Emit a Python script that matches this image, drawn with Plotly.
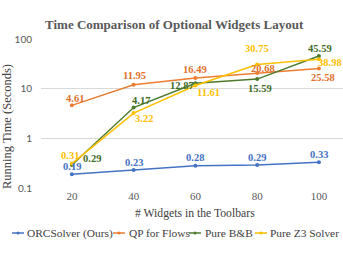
import math
import plotly.graph_objects as go

widgets = [20, 40, 60, 80, 100]
tick_labels = ["20", "40", "60", "80", "100"]
orc = [0.19, 0.23, 0.28, 0.29, 0.33]
qp = [4.61, 11.95, 16.49, 20.68, 25.58]
bb = [0.29, 4.17, 12.87, 15.59, 45.59]
z3 = [0.31, 3.22, 11.61, 30.75, 38.98]
names = ["ORCSolver (Ours)", "QP for Flows", "Pure B&B", "Pure Z3 Solver"]
y_ticks = [0.1, 1, 10, 100]
y_tick_labels = ["0.1", "1", "10", "100"]

series = [orc, qp, bb, z3]
colors = ["#4472C4", "#ED7D31", "#4E7A2F", "#FFC000"]
label_colors = ["#4472C4", "#E0702A", "#3F6B26", "#FFC000"]
# label offsets in pixels (dx, dy up)
offsets = [
    [(0, 8), (0, 8), (0, 8), (0, 8), (0, 8)],
    [(3, 7), (1, 9), (0, 8), (6, 4), (4, -9)],
    [(20, 7), (7, 7), (-13, -2), (3, -9), (1, 7)],
    [(-2, 8), (10, -5), (13, -7), (0, 16), (11, -3)],
]

W, H = 343, 258
L, R, T, B = 41, 0, 39, 70
PW, PH = W - L - R, H - T - B
SERIF = "Liberation Serif"

fig = go.Figure()
for vals, name, c in zip(series, names, colors):
    fig.add_trace(go.Scatter(
        x=widgets, y=vals, name=name, mode="lines+markers",
        line=dict(color=c, width=1.5), marker=dict(color=c, size=4),
        showlegend=False, cliponaxis=False, hoverinfo="skip"))

annotations = []
for vals, c, offs in zip(series, label_colors, offsets):
    for x, v, (dx, dy) in zip(widgets, vals, offs):
        annotations.append(dict(
            x=x, y=math.log10(v), xref="x", yref="y",
            text="<b>%.2f</b>" % v, showarrow=False,
            xshift=dx, yshift=dy, xanchor="center", yanchor="middle",
            font=dict(family=SERIF, size=10.5, color=c)))

def px_x(p):
    return (p - L) / PW

def px_y(p):
    return (H - B - p) / PH

# title
annotations.append(dict(x=px_x(174), y=px_y(24), xref="paper", yref="paper",
    text="<b>Time Comparison of Optional Widgets Layout</b>", showarrow=False,
    xanchor="center", yanchor="middle",
    font=dict(family=SERIF, size=13, color="#595959")))
# y title
annotations.append(dict(x=px_x(7), y=px_y(127), xref="paper", yref="paper",
    text="Running Time (Seconds)", showarrow=False, textangle=-90,
    xanchor="center", yanchor="middle",
    font=dict(family=SERIF, size=12.5, color="#404040")))
# x title
annotations.append(dict(x=px_x(195), y=px_y(213), xref="paper", yref="paper",
    text="# Widgets in the Toolbars", showarrow=False,
    xanchor="center", yanchor="middle",
    font=dict(family=SERIF, size=11.7, color="#404040")))

# manual legend
leg_y = 233
leg_x = [(12, 24, 25), (113, 125, 127), (189, 201, 203), (255, 267, 268)]
shapes = []
for (x0, x1, tx), name, c in zip(leg_x, names, colors):
    shapes.append(dict(type="line", xref="paper", yref="paper",
        x0=px_x(x0), x1=px_x(x1), y0=px_y(leg_y), y1=px_y(leg_y),
        line=dict(color=c, width=1.5)))
    shapes.append(dict(type="circle", xref="paper", yref="paper",
        x0=px_x((x0 + x1) / 2 - 1.5), x1=px_x((x0 + x1) / 2 + 1.5),
        y0=px_y(leg_y - 1.5), y1=px_y(leg_y + 1.5),
        fillcolor=c, line=dict(color=c, width=0)))
    annotations.append(dict(x=px_x(tx), y=px_y(leg_y), xref="paper", yref="paper",
        text=name, showarrow=False, xanchor="left", yanchor="middle",
        font=dict(family=SERIF, size=11.4, color="#404040")))

fig.update_layout(
    width=W, height=H, margin=dict(l=L, r=R, t=T, b=B),
    paper_bgcolor="white", plot_bgcolor="white",
    annotations=annotations, shapes=shapes, hovermode=False,
    xaxis=dict(range=[10, 107.8], tickvals=widgets, ticktext=tick_labels,
               showgrid=False, zeroline=False, showline=False, ticks="",
               tickfont=dict(family=SERIF, size=11, color="#595959")),
    yaxis=dict(type="log", range=[-1, 2], tickvals=y_ticks, ticktext=y_tick_labels,
               showgrid=True, gridcolor="#D9D9D9", gridwidth=1,
               zeroline=False, showline=False, ticks="", ticklabelstandoff=8,
               tickfont=dict(family="Lato", size=10, color="#595959")),
)
fig.write_html("out.html", config={"displayModeBar": False},
               post_script="document.body.style.margin='0';document.body.style.overflow='hidden';")
